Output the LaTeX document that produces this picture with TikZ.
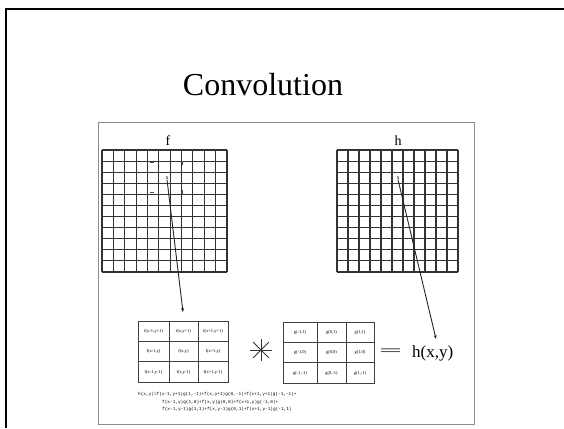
\documentclass[tikz,border=0pt]{standalone}
\usepackage{fontspec}
\setmainfont{Liberation Serif}
\newfontfamily\monof{Liberation Mono}
\usetikzlibrary{arrows.meta}
\begin{document}
\begin{tikzpicture}[x=1pt,y=-1pt,
  gl/.style={draw=black!80,line width=1.1pt},
  cellline/.style={draw=black!75,line width=0.9pt},
  celltxt/.style={font=\fontsize{4.5}{5}\selectfont,inner sep=0pt},
  formula/.style={font=\monof\fontsize{4.4}{5}\selectfont,inner sep=0pt,anchor=west},
  ptr/.style={draw=black!85,line width=0.9pt,-{Stealth[length=4pt,width=3pt]}},
  tick/.style={draw=black!70,line width=0.8pt}]
\useasboundingbox (0,0) rectangle (564,428);
% outer frame
\draw[line width=2.5pt] (6,428) -- (6,9) -- (564,9);
% title
\node (title) at (263,85) {\fontsize{32}{38}\selectfont Convolution};
% inner picture frame
\node[draw=black!45,line width=1.3pt,minimum width=376pt,minimum height=302pt,anchor=north west,inner sep=0pt] (panel) at (98,122) {};
% grid f
\node[anchor=north west,minimum width=125pt,minimum height=122pt,inner sep=0pt] (fg) at (102,150) {};
\foreach \i in {0,...,11} {
  \draw[gl] ({102+\i*125/11},150) -- ({102+\i*125/11},272);
  \draw[gl] (102,{150+\i*122/11}) -- (227,{150+\i*122/11});
}
\node[font=\fontsize{14}{15}\selectfont,inner sep=0pt] (flab) at (168,141) {f};
% grid h
\node[anchor=north west,minimum width=121pt,minimum height=122pt,inner sep=0pt] (hg) at (337,150) {};
\foreach \i in {0,...,11} {
  \draw[gl] ({337+\i*121/11},150) -- ({337+\i*121/11},272);
  \draw[gl] (337,{150+\i*122/11}) -- (458,{150+\i*122/11});
}
\node[font=\fontsize{14}{15}\selectfont,inner sep=0pt] (hlab) at (398,141) {h};
% window marks in f
\node[celltxt,font=\fontsize{6}{6}\selectfont] (fx) at (167,178) {x};
\draw[tick] (150,162) -- (154,162);
\draw[tick] (182,161) -- (182,165);
\draw[tick] (150,192) -- (154,192);
\draw[tick] (182,190) -- (182,194);
% mark in h
\node[celltxt,font=\fontsize{6}{6}\selectfont] (hx) at (398,178) {x};
% left table f
\node[draw=black!75,line width=0.9pt,anchor=north west,minimum width=90pt,minimum height=61pt,inner sep=0pt] (ft) at (138,321) {};
\draw[cellline] (169,321) -- (169,382) (198,321) -- (198,382) (138,341.3) -- (228,341.3) (138,361.7) -- (228,361.7);
\node[celltxt] (f11) at (153.5,331) {f(x-1,y+1)};
\node[celltxt] (f12) at (183.5,331) {f(x,y+1)};
\node[celltxt] (f13) at (213,331) {f(x+1,y+1)};
\node[celltxt] (f21) at (153.5,351.5) {f(x-1,y)};
\node[celltxt] (f22) at (183.5,351.5) {f(x,y)};
\node[celltxt] (f23) at (213,351.5) {f(x+1,y)};
\node[celltxt] (f31) at (153.5,372) {f(x-1,y-1)};
\node[celltxt] (f32) at (183.5,372) {f(x,y-1)};
\node[celltxt] (f33) at (213,372) {f(x+1,y-1)};
% star
\coordinate (star) at (261,350);
\foreach \a in {0,45,...,315} \draw[black!80,line width=0.8pt] (star) -- ++(\a:11pt);
% right table g
\node[draw=black!75,line width=0.9pt,anchor=north west,minimum width=91pt,minimum height=61pt,inner sep=0pt] (gt) at (283,322) {};
\draw[cellline] (317,322) -- (317,383) (346,322) -- (346,383) (283,342.3) -- (374,342.3) (283,362.7) -- (374,362.7);
\node[celltxt] (g11) at (300,332) {g(-1,1)};
\node[celltxt] (g12) at (331.5,332) {g(0,1)};
\node[celltxt] (g13) at (360,332) {g(1,1)};
\node[celltxt] (g21) at (300,352.5) {g(-1,0)};
\node[celltxt] (g22) at (331.5,352.5) {g(0,0)};
\node[celltxt] (g23) at (360,352.5) {g(1,0)};
\node[celltxt] (g31) at (300,373) {g(-1,-1)};
\node[celltxt] (g32) at (331.5,373) {g(0,-1)};
\node[celltxt] (g33) at (360,373) {g(1,-1)};
% equals and result
\node[inner sep=0pt] (eq) at (390.5,352) {\resizebox{23pt}{6.5pt}{=}};
\node[font=\fontsize{17}{18}\selectfont,inner sep=0pt,anchor=west] (hxy) at (412,353) {h(x,y)};
% arrows
\coordinate (fend) at (183,312);
\coordinate (hend) at (436,339);
\draw[ptr] (fx.south) -- (fend);
\draw[ptr] (hx.south) -- (hend);
% formula
\node[formula] (l1) at (138,394) {h(x,y)=f(x-1,y+1)g(1,-1)+f(x,y+1)g(0,-1)+f(x+1,y+1)g(-1,-1)+};
\node[formula] (l2) at (162,402) {f(x-1,y)g(1,0)+f(x,y)g(0,0)+f(x+1,y)g(-1,0)+};
\node[formula] (l3) at (162,409) {f(x-1,y-1)g(1,1)+f(x,y-1)g(0,1)+f(x+1,y-1)g(-1,1)};
\end{tikzpicture}
\end{document}
